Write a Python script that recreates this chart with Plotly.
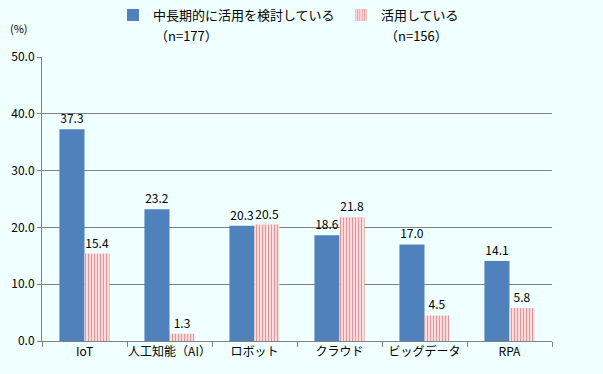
import plotly.graph_objects as go

categories = ["IoT", "人工知能（AI）", "ロボット", "クラウド", "ビッグデータ", "RPA"]
considering = [37.3, 23.2, 20.3, 18.6, 17.0, 14.1]
using = [15.4, 1.3, 20.5, 21.8, 4.5, 5.8]
series_names = ["中長期的に活用を検討している", "活用している"]
series_counts = ["（n=177）", "（n=156）"]

font_family = "Noto Sans CJK JP, sans-serif"
W, H = 603, 374

fig = go.Figure()
fig.add_trace(go.Bar(
    x=categories, y=considering, name=series_names[0], legend="legend",
    marker=dict(color="#4F81BD", line=dict(width=0)),
    text=[f"{v:.1f}" for v in considering], textposition="outside",
    textfont=dict(size=12, color="#000000"), cliponaxis=False,
))
fig.add_trace(go.Bar(
    x=categories, y=using, name=series_names[1], legend="legend2",
    marker=dict(color="#FFFFFF", line=dict(width=0),
                pattern=dict(shape="|", fgcolor="#D42A30", bgcolor="#FFFFFF",
                             size=3, solidity=0.55, fillmode="overlay")),
    text=[f"{v:.1f}" for v in using], textposition="outside",
    textfont=dict(size=12, color="#000000"), cliponaxis=False,
))

leg_common = dict(xref="container", yref="container", yanchor="top", xanchor="left",
                  bgcolor="rgba(0,0,0,0)", font=dict(size=13), itemwidth=30,
                  valign="top")

fig.update_layout(
    width=W, height=H,
    paper_bgcolor="#F0FFFF", plot_bgcolor="#F0FFFF",
    margin=dict(l=42, r=51, t=57, b=33, autoexpand=False),
    barmode="group", bargap=0.41, bargroupgap=0,
    font=dict(family=font_family, size=12, color="#000000"),
    showlegend=True,
    legend=dict(x=113 / W, y=1.0, **leg_common),
    legend2=dict(x=341 / W, y=1.0, **leg_common),
    xaxis=dict(showline=True, linecolor="#808080", linewidth=1,
               ticks="outside", tickson="boundaries", ticklen=5, tickcolor="#808080",
               tickfont=dict(size=12), showgrid=False, tickangle=0, automargin=False),
    yaxis=dict(range=[0, 50], dtick=10, tickformat=".1f",
               showline=True, linecolor="#808080", linewidth=1,
               ticks="outside", ticklen=4, tickcolor="#808080",
               showgrid=True, gridcolor="#808080", gridwidth=1,
               tickfont=dict(size=12), zeroline=False, automargin=False),
    annotations=[
        dict(text="(%)", xref="paper", yref="paper", x=-0.045, y=1.102,
             xanchor="center", yanchor="middle", showarrow=False, font=dict(size=11)),
        dict(text=series_counts[0], xref="paper", yref="paper", x=0.2176, y=1.077,
             xanchor="left", yanchor="middle", showarrow=False, font=dict(size=13)),
        dict(text=series_counts[1], xref="paper", yref="paper", x=0.6686, y=1.077,
             xanchor="left", yanchor="middle", showarrow=False, font=dict(size=13)),
    ],
)
fig.write_html("out.html", config={"displayModeBar": False},
               post_script="document.body.style.margin='0';document.body.style.background='#F0FFFF';")
